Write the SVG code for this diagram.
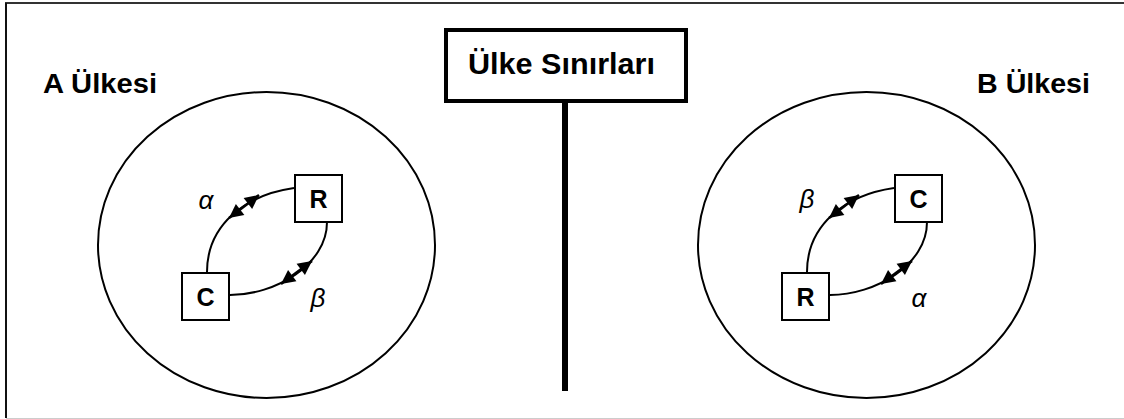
<svg xmlns="http://www.w3.org/2000/svg" xmlns:xlink="http://www.w3.org/1999/xlink" width="1124" height="419" viewBox="0 0 1124 419">
<defs>
<style>
.lbl{font-family:"Liberation Sans",Arial,sans-serif;font-weight:bold;fill:#000}
.box{fill:#fff;stroke:#000;stroke-width:2}
.ltr{font-family:"Liberation Sans",Arial,sans-serif;font-weight:bold;font-size:25px;text-anchor:middle;fill:#000}
.grk{font-family:"Liberation Sans",Arial,sans-serif;font-style:italic;font-size:26px;text-anchor:middle;fill:#000}
.cv{fill:none;stroke:#000;stroke-width:2}
.dbl{fill:none;stroke:#000;stroke-width:2.5}
.ring{fill:none;stroke:#000;stroke-width:2}
</style>
<path id="tip" d="M0,0 L-14,-7 L-14,7 Z" fill="#000"/>
</defs>
<rect width="1124" height="419" fill="#fff"/>
<g id="frame">
<line x1="5" y1="3" x2="1124" y2="3" stroke="#333" stroke-width="2"/>
<line x1="6" y1="3" x2="6" y2="418" stroke="#111" stroke-width="2"/>
<line x1="6" y1="418.5" x2="1124" y2="418.5" stroke="#ccc" stroke-width="1"/>
</g>
<g id="country-a">
<ellipse class="ring" cx="266.5" cy="245" rx="168.5" ry="153"/>
<text class="lbl" x="43" y="93" font-size="28" textLength="114" lengthAdjust="spacingAndGlyphs">A Ülkesi</text>
</g>
<g id="country-b">
<ellipse class="ring" cx="866.5" cy="245" rx="168.5" ry="153"/>
<text class="lbl" x="977" y="93" font-size="28" textLength="113" lengthAdjust="spacingAndGlyphs">B Ülkesi</text>
</g>
<g id="border">
<line x1="565" y1="101" x2="565" y2="391" stroke="#000" stroke-width="6"/>
<rect x="446" y="30" width="240" height="71" fill="#fff" stroke="#000" stroke-width="4"/>
<text class="lbl" x="468" y="74" font-size="29" textLength="187" lengthAdjust="spacingAndGlyphs">Ülke Sınırları</text>
</g>
<g id="connectors">
<path class="cv" d="M207,272 C207,225 245,195 294,188"/>
<path class="dbl" d="M229,218 L259,195"/>
<use xlink:href="#tip" href="#tip" transform="translate(259,195) rotate(-37.5)"/>
<use xlink:href="#tip" href="#tip" transform="translate(229,218) rotate(142.5)"/>
<path class="cv" d="M230,295 C275,295 327,265 327,222"/>
<path class="dbl" d="M281,284 L312,261"/>
<use xlink:href="#tip" href="#tip" transform="translate(312,261) rotate(-36.6)"/>
<use xlink:href="#tip" href="#tip" transform="translate(281,284) rotate(143.4)"/>
<path class="cv" d="M807,272 C807,225 845,195 894,188"/>
<path class="dbl" d="M829,218 L859,195"/>
<use xlink:href="#tip" href="#tip" transform="translate(859,195) rotate(-37.5)"/>
<use xlink:href="#tip" href="#tip" transform="translate(829,218) rotate(142.5)"/>
<path class="cv" d="M830,295 C875,295 927,265 927,222"/>
<path class="dbl" d="M881,284 L912,261"/>
<use xlink:href="#tip" href="#tip" transform="translate(912,261) rotate(-36.6)"/>
<use xlink:href="#tip" href="#tip" transform="translate(881,284) rotate(143.4)"/>
</g>
<g id="a-R">
<rect class="box" x="295" y="175" width="47" height="47"/>
<text class="ltr" x="318.5" y="207.5">R</text>
</g>
<g id="a-C">
<rect class="box" x="182" y="273" width="47" height="47"/>
<text class="ltr" x="205.5" y="305.5">C</text>
</g>
<g id="b-C">
<rect class="box" x="895" y="175" width="47" height="47"/>
<text class="ltr" x="918.5" y="207.5">C</text>
</g>
<g id="b-R">
<rect class="box" x="782" y="273" width="47" height="47"/>
<text class="ltr" x="805.5" y="305.5">R</text>
</g>
<g id="labels">
<text class="grk" x="206" y="209">α</text>
<text class="grk" x="318" y="307">β</text>
<text class="grk" x="807" y="208">β</text>
<text class="grk" x="919" y="307">α</text>
</g>
</svg>
